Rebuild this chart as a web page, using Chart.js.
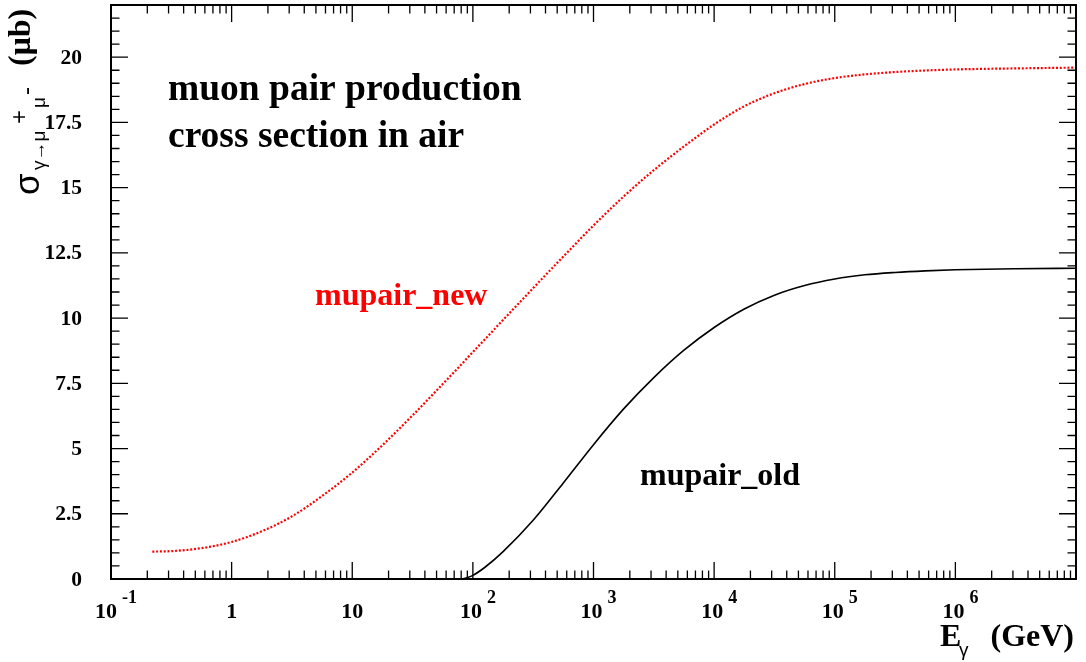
<!DOCTYPE html>
<html>
<head>
<meta charset="utf-8">
<script src="https://cdn.jsdelivr.net/npm/chart.js@4.4.0/dist/chart.umd.min.js"></script>
<style>
body { margin: 0; background: #fff; }
#wrap { width: 1086px; height: 662px; }
</style>
</head>
<body>
<div id="wrap"><canvas id="grafico" width="1086" height="662"></canvas></div>
<script>
// photon energy (GeV)
var energies = [0.22, 0.32, 0.56, 1, 1.78, 3.16, 5.62, 10, 17.8, 31.6, 56.2, 79.4, 89.1, 100, 126, 178, 316, 562,
    1000, 1778, 3162, 5623, 10000, 17783, 31623, 56234, 100000, 177828, 316228, 562341, 1000000, 3162278, 10000000];

// cross section (microbarn)
var mupairNew = [1.05, 1.07, 1.18, 1.42, 1.83, 2.40, 3.18, 4.08, 5.13, 6.27, 7.47, 8.20, 8.45, 8.70, 9.19, 9.93, 11.15, 12.36,
    13.55, 14.66, 15.67, 16.58, 17.42, 18.12, 18.62, 18.97, 19.20, 19.34, 19.43, 19.49, 19.53, 19.57, 19.60];
var mupairOld = [0, 0, 0, 0, 0, 0, 0, 0, 0, 0, 0, 0, 0.05, 0.14, 0.45, 1.05, 2.25, 3.68,
    5.15, 6.52, 7.72, 8.77, 9.64, 10.35, 10.88, 11.25, 11.50, 11.66, 11.75, 11.81, 11.85, 11.89, 11.91];

var xTickValues = [0.1, 1, 10, 100, 1000, 10000, 100000, 1000000];
var xTickLabels = [['10', '-1'], ['1', ''], ['10', ''], ['10', '2'], ['10', '3'], ['10', '4'], ['10', '5'], ['10', '6']];
var yTickValues = [0, 2.5, 5, 7.5, 10, 12.5, 15, 17.5, 20];
var yTickLabels = ['0', '2.5', '5', '7.5', '10', '12.5', '15', '17.5', '20'];

var xMin = 0.1, xMax = 10000000, yMin = 0, yMax = 22;

function MontarPontos(valores) {
    return energies.map(function (e, i) { return { x: e, y: valores[i] }; });
}

var serif = '"Liberation Serif", "Times New Roman", serif';
var sans = '"Liberation Sans", Arial, sans-serif';

var moldura = {
    id: 'moldura',
    afterDraw: function (chart) {
        var ctx = chart.ctx, a = chart.chartArea;
        var xs = chart.scales.x, ys = chart.scales.y;
        ctx.save();

        // ticks, pointing inwards on all four sides
        ctx.strokeStyle = '#000';
        ctx.lineWidth = 1.3;
        ctx.beginPath();
        for (var d = -1; d < 7; d++) {
            for (var k = 1; k < 10; k++) {
                var v = k * Math.pow(10, d);
                if (v < xMin || v > xMax) continue;
                var px = xs.getPixelForValue(v);
                var len = k === 1 ? 17 : 8.5;
                ctx.moveTo(px, a.bottom); ctx.lineTo(px, a.bottom - len);
                ctx.moveTo(px, a.top); ctx.lineTo(px, a.top + len);
            }
        }
        for (var j = 0; j <= 44; j++) {
            var yv = j * 0.5;
            var py = ys.getPixelForValue(yv);
            var l = j % 5 === 0 ? 17 : 8.5;
            ctx.moveTo(a.left, py); ctx.lineTo(a.left + l, py);
            ctx.moveTo(a.right, py); ctx.lineTo(a.right - l, py);
        }
        ctx.stroke();

        ctx.lineWidth = 2;
        ctx.strokeRect(a.left, a.top, a.right - a.left, a.bottom - a.top);

        // y tick labels
        ctx.fillStyle = '#000';
        ctx.font = 'bold 21.5px ' + serif;
        ctx.textAlign = 'right';
        ctx.textBaseline = 'middle';
        yTickValues.forEach(function (v, i) {
            ctx.fillText(yTickLabels[i], 82, ys.getPixelForValue(v) + 1);
        });

        // x tick labels (10 with exponent)
        ctx.textAlign = 'left';
        ctx.textBaseline = 'alphabetic';
        xTickValues.forEach(function (v, i) {
            var px = xs.getPixelForValue(v);
            var base = xTickLabels[i][0], ex = xTickLabels[i][1];
            ctx.font = 'bold 22px ' + serif;
            var wb = ctx.measureText(base).width;
            if (!ex) {
                ctx.textAlign = 'center';
                ctx.fillText(base, px, 618);
                ctx.textAlign = 'left';
                return;
            }
            ctx.font = 'bold 18px ' + serif;
            var we = ctx.measureText(ex).width;
            var left = px + 5 - (wb + 5 + we) / 2;
            ctx.font = 'bold 22px ' + serif;
            ctx.fillText(base, left, 618);
            ctx.font = 'bold 18px ' + serif;
            ctx.fillText(ex, left + wb + 5, 603);
        });

        // x axis title
        ctx.font = 'bold 32px ' + serif;
        ctx.fillText('E', 940, 646);
        ctx.font = '19px ' + sans;
        ctx.fillText('\u03b3', 959, 656);
        ctx.font = 'bold 32px ' + serif;
        ctx.textAlign = 'right';
        ctx.fillText('(GeV)', 1074, 646);

        // y axis title, rotated
        ctx.textAlign = 'left';
        function rot(txt, font, bx, uy) {
            ctx.save();
            ctx.translate(bx, uy);
            ctx.rotate(-Math.PI / 2);
            ctx.font = font;
            ctx.fillText(txt, 0, 0);
            ctx.restore();
        }
        rot('\u03c3', '35px ' + sans, 39, 195);
        rot('\u03b3\u2192\u03bc', '19px ' + sans, 45, 170);
        rot('+', '24px ' + sans, 27, 124);
        rot('\u03bc', '19px ' + sans, 45, 108);
        rot('-', '24px ' + sans, 34, 95);
        rot('(\u03bcb)', 'bold 32px ' + serif, 30, 66);

        // text in the plot
        ctx.textAlign = 'left';
        ctx.font = 'bold 37.5px ' + serif;
        ctx.fillText('muon pair production', 168, 100);
        ctx.fillText('cross section in air', 168, 147);
        ctx.font = 'bold 32px ' + serif;
        ctx.fillStyle = '#ff0000';
        ctx.fillText('mupair_new', 315, 305);
        ctx.fillStyle = '#000';
        ctx.fillText('mupair_old', 640, 485);

        ctx.restore();
    }
};

new Chart(document.getElementById('grafico'), {
    type: 'line',
    data: {
        datasets: [{
            label: 'mupair_new',
            data: MontarPontos(mupairNew),
            borderColor: '#ff0000',
            borderWidth: 2.2,
            borderDash: [2, 1.8],
            pointRadius: 0,
            cubicInterpolationMode: 'monotone',
            fill: false
        }, {
            label: 'mupair_old',
            data: MontarPontos(mupairOld),
            borderColor: '#000000',
            borderWidth: 1.6,
            pointRadius: 0,
            cubicInterpolationMode: 'monotone',
            fill: false
        }]
    },
    options: {
        responsive: false,
        animation: false,
        layout: { padding: { left: 111, right: 10, top: 5, bottom: 83 } },
        scales: {
            x: { type: 'logarithmic', min: xMin, max: xMax, display: false },
            y: { type: 'linear', min: yMin, max: yMax, display: false }
        },
        plugins: {
            legend: { display: false },
            tooltip: { enabled: false }
        }
    },
    plugins: [moldura]
});
</script>
</body>
</html>
